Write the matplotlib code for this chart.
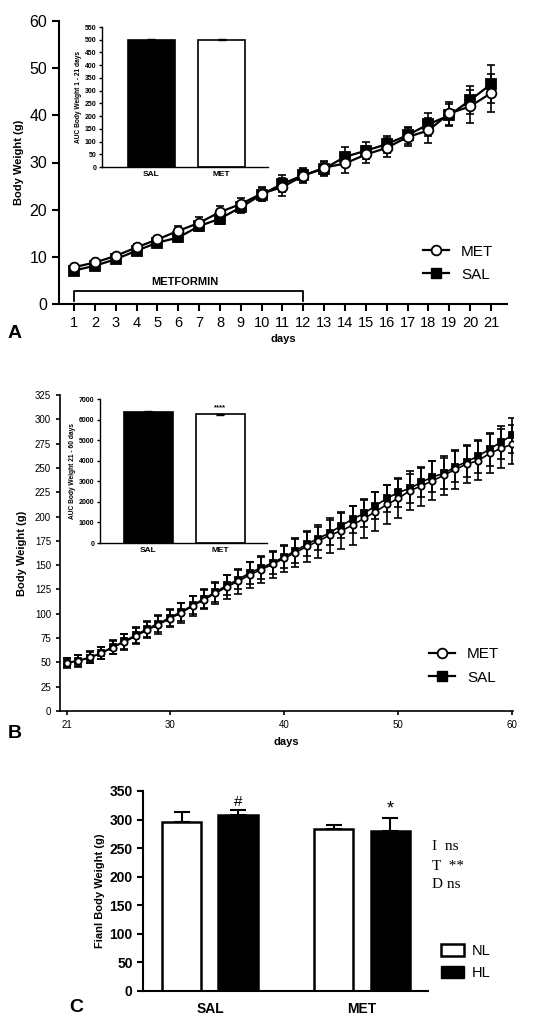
import numpy as np
import matplotlib
matplotlib.use("Agg")
import matplotlib.pyplot as plt
from matplotlib.lines import Line2D
from matplotlib.patches import Patch

plt.rcParams['font.family'] = ['Liberation Sans', 'DejaVu Sans']

# ---- data: panel A (days 1-21)
days_a = list(range(1, 22))
met_a = [7.8, 8.8, 10.2, 12.0, 13.7, 15.5, 17.2, 19.5, 21.2, 23.4, 24.8,
         27.2, 28.9, 29.8, 31.7, 33.1, 35.4, 36.8, 40.4, 41.9, 44.7]
met_a_err = [0.3, 0.5, 0.5, 0.7, 0.8, 1.0, 1.2, 1.2, 1.2, 1.5, 2.0,
             1.5, 1.5, 2.0, 1.8, 2.0, 2.0, 2.7, 2.5, 3.5, 4.0]
sal_a = [7.1, 8.1, 9.5, 11.3, 13.0, 14.1, 16.5, 18.1, 20.5, 23.2, 25.5,
         27.3, 28.7, 31.2, 32.5, 33.9, 35.8, 38.1, 40.0, 43.2, 46.6]
sal_a_err = [0.3, 0.5, 0.5, 0.6, 0.7, 0.9, 1.1, 1.2, 1.2, 1.4, 1.8,
             1.5, 1.5, 2.0, 1.8, 1.8, 1.8, 2.5, 2.3, 3.0, 4.0]
groups = ['SAL', 'MET']
auc_a = [500, 499]
auc_a_err = [3, 2]

# ---- data: panel B (days 21-60)
days_b = list(range(21, 61))
sal_b = [49.4, 51.5, 54.9, 59.7, 65.9, 71.7, 77.9, 84.4, 89.9, 96.1,
         101.9, 108.8, 115.6, 122.2, 129.4, 135.2, 142.1, 147.2, 152.4, 158.5,
         164.7, 171.6, 177.4, 183.3, 190.5, 197.3, 203.2, 211.0, 218.6, 224.8,
         228.9, 235.1, 240.9, 244.3, 251.2, 256.4, 262.2, 269.4, 276.6, 283.8]
sal_b_err = [5, 6, 6, 6, 7, 8, 8, 8, 9, 9, 9, 9, 10, 10, 10, 10, 11, 11, 11, 11,
             12, 12, 12, 13, 13, 14, 14, 14, 14, 15, 15, 15, 16, 16, 16, 16, 17, 17, 17, 18]
met_b = [49.8, 51.8, 55.2, 59.4, 65.3, 70.8, 76.9, 83.2, 88.7, 95.0,
         101.0, 108.0, 114.5, 121.0, 127.7, 133.5, 140.0, 145.5, 150.8, 157.0,
         163.0, 169.2, 174.8, 180.8, 185.3, 191.1, 198.0, 204.9, 212.4, 218.6,
         226.5, 231.3, 236.8, 242.5, 248.5, 254.0, 257.5, 264.9, 270.1, 274.5]
met_b_err = [5, 6, 6, 6, 7, 8, 8, 8, 9, 9, 10, 10, 10, 11, 12, 13, 13, 14, 14, 14,
             15, 16, 17, 18, 19, 20, 20, 20, 20, 20, 20, 20, 20, 20, 20, 20, 20, 20, 20, 20]
auc_b = [6380, 6256]
auc_b_err = [30, 30]

# ---- data: panel C (final body weight)
nl_c = [296, 284]
nl_c_err = [18, 7]
hl_c = [308, 280]
hl_c_err = [9, 22]
stats_lines = ['I  ns', 'T  **', 'D ns']

W, H = 550, 1029
fig = plt.figure(figsize=(W / 100, H / 100), dpi=100)


def box(l, t, r, b):
    return [l / W, 1 - b / H, (r - l) / W, (b - t) / H]


def style(ax, lw=1.5):
    for s in ['top', 'right']:
        ax.spines[s].set_visible(False)
    for s in ['left', 'bottom']:
        ax.spines[s].set_linewidth(lw)
    ax.tick_params(direction='out', width=lw, color='black')


def series(ax, x, y, e, marker, face, ms, lw):
    ax.errorbar(x, y, yerr=e, fmt='none', ecolor='black', elinewidth=1.2,
                capsize=3, capthick=1.2, zorder=2)
    ax.plot(x, y, '-', color='black', lw=lw, marker=marker, mfc=face,
            mec='black', mew=1.3, ms=ms, zorder=3)


# ---------------- Panel A
ax = fig.add_axes(box(59, 21, 507, 304))
style(ax)
series(ax, days_a, sal_a, sal_a_err, 's', 'black', 7, 1.6)
series(ax, days_a, met_a, met_a_err, 'o', 'white', 7, 1.6)
ax.set_xlim(0.28, 21.77)
ax.set_ylim(0, 60)
ax.set_xticks(days_a)
ax.set_yticks(range(0, 61, 10))
ax.tick_params(axis='y', labelsize=11.5, length=5)
ax.tick_params(axis='x', labelsize=10.5, length=5)
ax.set_ylabel('Body Weight (g)', fontsize=8, fontweight='bold', labelpad=4)
ax.set_xlabel('days', fontsize=8, fontweight='bold', labelpad=3)
ax.plot([1, 1, 12, 12], [0.6, 2.7, 2.7, 0.6], color='black', lw=1.3, clip_on=False)
ax.text(6.3, 4.7, 'METFORMIN', fontsize=8, fontweight='bold', ha='center', va='center')
h = [Line2D([], [], color='black', lw=1.6, marker='o', mfc='white', mec='black', mew=1.3, ms=7),
     Line2D([], [], color='black', lw=1.6, marker='s', mfc='black', mec='black', ms=7)]
ax.legend(h, ['MET', 'SAL'], loc='lower right', bbox_to_anchor=(1.0, 0.03), frameon=False,
          fontsize=11, handlelength=1.7, numpoints=1, labelspacing=0.6)
fig.text(15 / W, 1 - 333 / H, 'A', fontsize=14, fontweight='bold', ha='center', va='center')

ins = fig.add_axes(box(102, 27, 268, 167))
style(ins, lw=1.0)
ins.bar([0, 1], auc_a, width=0.67, color=['black', 'white'], edgecolor='black', lw=1.2,
        yerr=auc_a_err, error_kw=dict(ecolor='black', elinewidth=1, capsize=3, capthick=1))
ins.set_xlim(-0.707, 1.664)
ins.set_ylim(0, 550)
ins.set_yticks(range(0, 551, 50))
ins.set_xticks([0, 1])
ins.set_xticklabels(groups, fontsize=6, fontweight='bold')
ins.tick_params(axis='y', labelsize=5, length=2.5, pad=1.5)
ins.tick_params(axis='x', length=0, pad=3)
for t in ins.get_yticklabels():
    t.set_fontweight('bold')
ins.set_ylabel('AUC Body Weight 1 - 21 days', fontsize=4.8, fontweight='bold', labelpad=2)

# ---------------- Panel B
ax = fig.add_axes(box(60, 395, 513, 711))
style(ax, lw=1.2)
series(ax, days_b, sal_b, sal_b_err, 's', 'black', 4.5, 1.2)
series(ax, days_b, met_b, met_b_err, 'o', 'white', 4.5, 1.2)
ax.set_xlim(20.39, 60.05)
ax.set_ylim(0, 325)
ax.set_xticks([21, 30, 40, 50, 60])
ax.set_yticks(range(0, 326, 25))
ax.tick_params(labelsize=7, length=3)
ax.set_ylabel('Body Weight (g)', fontsize=8, fontweight='bold', labelpad=6)
ax.set_xlabel('days', fontsize=8, fontweight='bold', labelpad=5)
ax.legend(h, ['MET', 'SAL'], loc='lower right', bbox_to_anchor=(1.0, 0.04), frameon=False,
          fontsize=11, handlelength=1.7, numpoints=1, labelspacing=0.6)
fig.text(15 / W, 1 - 733 / H, 'B', fontsize=14, fontweight='bold', ha='center', va='center')

ins = fig.add_axes(box(100, 399, 267, 543))
style(ins, lw=1.0)
ins.bar([0, 1], auc_b, width=0.685, color=['black', 'white'], edgecolor='black', lw=1.2,
        yerr=auc_b_err, error_kw=dict(ecolor='black', elinewidth=1, capsize=3, capthick=1))
ins.text(1, auc_b[1] + 150, '****', fontsize=5.5, ha='center', va='bottom', fontweight='bold')
ins.set_xlim(-0.678, 1.657)
ins.set_ylim(0, 7000)
ins.set_yticks(range(0, 7001, 1000))
ins.set_xticks([0, 1])
ins.set_xticklabels(groups, fontsize=6, fontweight='bold')
ins.tick_params(axis='y', labelsize=5, length=2.5, pad=1.5)
ins.tick_params(axis='x', length=0, pad=3)
for t in ins.get_yticklabels():
    t.set_fontweight('bold')
ins.set_ylabel('AUC Body Weight 21 - 60 days', fontsize=4.8, fontweight='bold', labelpad=2)

# ---------------- Panel C
ax = fig.add_axes(box(143, 791, 428, 991))
style(ax, lw=1.5)
x = np.arange(len(groups))
off, bw = 0.186, 0.26
ax.bar(x - off, nl_c, width=bw, color='white', edgecolor='black', lw=1.8,
       yerr=[[0, 0], nl_c_err], error_kw=dict(ecolor='black', elinewidth=1.5, capsize=6, capthick=1.5))
ax.bar(x + off, hl_c, width=bw, color='black', edgecolor='black', lw=1.8,
       yerr=[[0, 0], hl_c_err], error_kw=dict(ecolor='black', elinewidth=1.5, capsize=6, capthick=1.5))
ax.text(x[0] + off, hl_c[0] + hl_c_err[0] + 2, '#', fontsize=11, ha='center', va='bottom')
ax.text(x[1] + off, hl_c[1] + hl_c_err[1] + 1, '*', fontsize=13, ha='center', va='bottom')
ax.set_xlim(-0.44, 1.434)
ax.set_ylim(0, 350)
ax.set_yticks(range(0, 351, 50))
ax.set_xticks(x)
ax.set_xticklabels(groups, fontsize=10, fontweight='bold')
ax.tick_params(axis='x', length=0, pad=8)
ax.tick_params(axis='y', labelsize=10, length=4)
for t in ax.get_yticklabels():
    t.set_fontweight('bold')
ax.set_ylabel('Fianl Body Weight (g)', fontsize=8, fontweight='bold', labelpad=3)
for i, s in enumerate(stats_lines):
    fig.text(432 / W, 1 - (847 + 19 * i) / H, s, fontsize=11, va='center', ha='left',
             family=['Liberation Serif', 'DejaVu Serif'])
hc = [Patch(facecolor='white', edgecolor='black', lw=1.8), Patch(facecolor='black', edgecolor='black')]
fig.legend(hc, ['NL', 'HL'], loc='center left', bbox_to_anchor=(428 / W, 1 - 962 / H), frameon=False,
           fontsize=10.5, handlelength=1.6, handleheight=0.9, labelspacing=0.6, handletextpad=0.5)
fig.text(76 / W, 1 - 1008 / H, 'C', fontsize=14, fontweight='bold', ha='center', va='center')

fig.savefig('out.png', dpi=100)
